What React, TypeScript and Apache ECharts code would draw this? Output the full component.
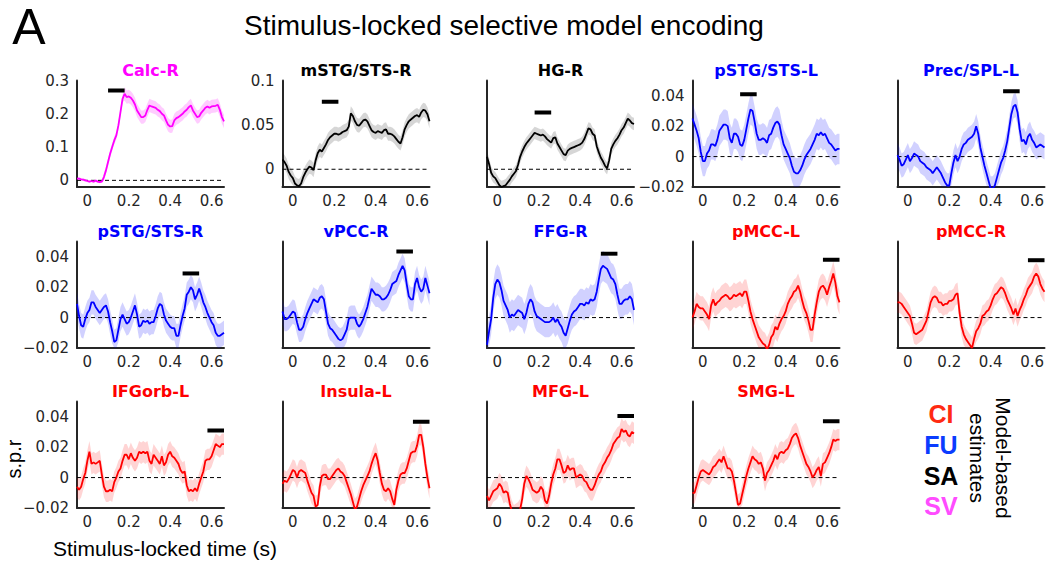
import React, { useEffect, useRef } from "react";
import * as echarts from "echarts";

// ---------- data ----------
const TIME = [
  -0.05, -0.04, -0.03, -0.02, -0.01, 0, 0.01, 0.02, 0.03, 0.04,
  0.05, 0.06, 0.07, 0.08, 0.09, 0.1, 0.11, 0.12, 0.13, 0.14,
  0.15, 0.16, 0.17, 0.18, 0.19, 0.2, 0.21, 0.22, 0.23, 0.24,
  0.25, 0.26, 0.27, 0.28, 0.29, 0.3, 0.31, 0.32, 0.33, 0.34,
  0.35, 0.36, 0.37, 0.38, 0.39, 0.4, 0.41, 0.42, 0.43, 0.44,
  0.45, 0.46, 0.47, 0.48, 0.49, 0.5, 0.51, 0.52, 0.53, 0.54,
  0.55, 0.56, 0.57, 0.58, 0.59, 0.6, 0.61, 0.62, 0.63, 0.64,
  0.65, 0.66,
];

const CALC_R = [
  0.005, 0.005, 0.003, 0.002, 0, -0.002, -0.004, -0.002, -0.004, -0.001,
  -0.004, -0.005, -0.004, 0.01, 0.03, 0.055, 0.08, 0.1, 0.12, 0.135,
  0.165, 0.205, 0.245, 0.26, 0.25, 0.252, 0.248, 0.24, 0.228, 0.21,
  0.2, 0.19, 0.19, 0.195, 0.212, 0.225, 0.222, 0.22, 0.218, 0.212,
  0.208, 0.2, 0.195, 0.18, 0.167, 0.162, 0.163, 0.18, 0.187, 0.19,
  0.195, 0.2, 0.207, 0.212, 0.22, 0.225, 0.21, 0.2, 0.19, 0.192,
  0.203, 0.21, 0.218, 0.222, 0.218, 0.222, 0.223, 0.224, 0.227, 0.212,
  0.19, 0.177,
];
const MSTG_STS_R = [
  0.011, 0.008, 0.004, -0.003, -0.007, -0.01, -0.016, -0.018, -0.019, -0.016,
  -0.009, -0.004, 0, 0.003, 0.002, -0.001, 0.01, 0.018, 0.022, 0.02,
  0.024, 0.028, 0.033, 0.036, 0.038, 0.04, 0.04, 0.039, 0.04, 0.042,
  0.043, 0.044, 0.048, 0.063, 0.06, 0.054, 0.05, 0.049, 0.052, 0.055,
  0.056, 0.054, 0.049, 0.044, 0.042, 0.041, 0.043, 0.042, 0.041, 0.044,
  0.045, 0.04, 0.04, 0.039, 0.037, 0.034, 0.031, 0.029, 0.036, 0.045,
  0.05, 0.054, 0.056, 0.058, 0.06, 0.061, 0.059, 0.064, 0.067, 0.066,
  0.062, 0.054,
];
const HG_R = [
  0.014, 0.006, -0.004, -0.008, -0.01, -0.014, -0.018, -0.02, -0.019, -0.018,
  -0.015, -0.012, -0.008, -0.005, -0.002, 0.005, 0.014, 0.02, 0.025, 0.029,
  0.032, 0.035, 0.038, 0.041, 0.04, 0.039, 0.038, 0.039, 0.037, 0.034,
  0.032, 0.03, 0.035, 0.036, 0.029, 0.025, 0.021, 0.017, 0.016, 0.021,
  0.023, 0.024, 0.025, 0.026, 0.027, 0.028, 0.03, 0.034, 0.04, 0.046,
  0.045, 0.04, 0.038, 0.026, 0.019, 0.013, 0.009, 0.004, 0.001, 0.01,
  0.023, 0.028, 0.032, 0.035, 0.039, 0.044, 0.047, 0.052, 0.057, 0.055,
  0.052, 0.051,
];
const PSTG_STS_L = [
  0.025, 0.021, 0.017, 0.012, 0.003, -0.003, -0.003, 0.002, 0.004, 0.008,
  0.008, 0.007, 0.011, 0.017, 0.019, 0.021, 0.021, 0.02, 0.012, 0.009,
  0.015, 0.015, 0.013, 0.008, 0.007, 0.011, 0.018, 0.025, 0.031, 0.03,
  0.023, 0.015, 0.011, 0.011, 0.012, 0.011, 0.009, 0.014, 0.015, 0.019,
  0.022, 0.023, 0.021, 0.014, 0.008, 0.005, 0.002, -0.001, -0.006, -0.01,
  -0.011, -0.011, -0.009, -0.006, -0.002, 0.001, 0.003, 0.005, 0.008, 0.011,
  0.015, 0.014, 0.016, 0.014, 0.015, 0.012, 0.009, 0.008, 0.006, 0.004,
  0.005, 0.005,
];
const PREC_SPL_L = [
  0.001, -0.002, -0.006, -0.005, -0.002, 0.001, -0.003, -0.001, 0.002, 0.001,
  0, -0.003, -0.004, -0.005, -0.007, -0.008, -0.009, -0.011, -0.009, -0.007,
  -0.009, -0.011, -0.014, -0.017, -0.019, -0.019, -0.011, -0.004, 0.001, -0.003,
  0, 0.005, 0.008, 0.009, 0.011, 0.012, 0.013, 0.015, 0.02, 0.015,
  0.006, 0, -0.006, -0.011, -0.016, -0.021, -0.021, -0.019, -0.014, -0.009,
  -0.004, -0.001, 0.004, 0.01, 0.019, 0.028, 0.033, 0.034, 0.029, 0.018,
  0.01, 0.011, 0.008, 0.013, 0.015, 0.011, 0.009, 0.006, 0.007, 0.008,
  0.007, 0.006,
];
const PSTG_STS_R = [
  0.009, 0.001, -0.005, -0.006, -0.001, 0.003, 0.005, 0.01, 0.01, 0.007,
  0.005, 0.003, 0.005, 0.007, 0.008, 0.004, -0.003, -0.009, -0.016, -0.015,
  -0.008, -0.001, 0.002, -0.001, -0.004, -0.003, 0, 0.004, 0.008, 0.002,
  -0.006, -0.005, -0.002, -0.003, -0.002, -0.004, -0.003, -0.003, 0.001, 0.006,
  0.009, 0.008, 0.002, -0.002, -0.004, -0.006, -0.007, -0.007, -0.012, -0.012,
  -0.005, 0.001, 0.006, 0.015, 0.017, 0.02, 0.018, 0.012, 0.015, 0.019,
  0.015, 0.01, 0.007, 0.003, 0, -0.003, -0.005, -0.01, -0.012, -0.012,
  -0.011, -0.01,
];
const VPCC_R = [
  0.004, -0.001, -0.001, 0, 0.002, 0.004, 0.003, -0.003, -0.008, -0.008,
  -0.006, -0.001, 0.003, 0.006, 0.009, 0.012, 0.011, 0.01, 0.013, 0.014,
  0.012, 0.004, -0.004, -0.007, -0.008, -0.01, -0.012, -0.014, -0.015, -0.014,
  -0.011, -0.008, -0.001, 0, 0, 0, -0.004, -0.006, -0.004, -0.001,
  0.003, 0.007, 0.013, 0.019, 0.017, 0.015, 0.015, 0.014, 0.012, 0.012,
  0.013, 0.015, 0.018, 0.022, 0.023, 0.024, 0.028, 0.031, 0.034, 0.031,
  0.022, 0.014, 0.012, 0.012, 0.022, 0.026, 0.02, 0.017, 0.019, 0.026,
  0.021, 0.016,
];
const FFG_R = [
  -0.018, -0.009, -0.001, 0.013, 0.022, 0.025, 0.023, 0.018, 0.011, 0.008,
  0.005, 0, 0.002, 0.001, 0.003, 0.005, 0.004, 0.003, -0.001, 0.003,
  0.009, 0.012, 0.01, 0.004, 0.001, 0, -0.001, -0.002, -0.003, -0.003,
  -0.003, -0.002, 0, -0.003, -0.001, -0.004, -0.006, -0.01, -0.012, -0.007,
  -0.002, 0.002, 0.004, 0.005, 0.007, 0.009, 0.009, 0.008, 0.01, 0.009,
  0.012, 0.011, 0.012, 0.017, 0.025, 0.032, 0.034, 0.033, 0.032, 0.029,
  0.026, 0.025, 0.022, 0.015, 0.009, 0.009, 0.011, 0.012, 0.012, 0.014,
  0.012, 0.005,
];
const PMCC_L = [
  0, 0.004, 0.009, 0.007, 0.006, 0.006, 0.004, 0.002, -0.001, 0.008,
  0.012, 0.008, 0.01, 0.011, 0.013, 0.014, 0.015, 0.014, 0.012, 0.013,
  0.015, 0.014, 0.015, 0.016, 0.014, 0.017, 0.017, 0.011, 0.004, -0.001,
  -0.005, -0.009, -0.013, -0.015, -0.017, -0.018, -0.021, -0.018, -0.013, -0.011,
  -0.006, -0.008, -0.004, -0.001, 0.001, 0.004, 0.009, 0.012, 0.014, 0.017,
  0.018, 0.021, 0.017, 0.011, 0.006, 0.003, -0.002, -0.008, -0.008, 0.002,
  0.01, 0.017, 0.02, 0.021, 0.019, 0.015, 0.02, 0.024, 0.029, 0.023,
  0.014, 0.01,
];
const PMCC_R = [
  0.01, 0.01, 0.009, 0.007, 0.005, 0.003, 0.001, -0.004, -0.01, -0.011,
  -0.01, -0.009, -0.008, -0.005, -0.002, 0.004, 0.01, 0.013, 0.014, 0.013,
  0.01, 0.01, 0.008, 0.009, 0.009, 0.011, 0.011, 0.012, 0.015, 0.016,
  0.003, -0.006, -0.011, -0.014, -0.016, -0.018, -0.02, -0.014, -0.009, -0.007,
  -0.004, 0.001, 0.002, 0.004, 0.005, 0.008, 0.012, 0.015, 0.016, 0.018,
  0.02, 0.019, 0.016, 0.012, 0.009, 0.006, 0.002, 0.006, 0.001, 0.005,
  0.008, 0.012, 0.015, 0.019, 0.021, 0.023, 0.027, 0.029, 0.027, 0.022,
  0.019, 0.017,
];
const IFGORB_L = [
  -0.006, -0.008, -0.006, -0.001, 0.003, 0.011, 0.017, 0.009, 0.01, 0.009,
  0.01, 0.011, 0.002, -0.006, -0.009, -0.009, -0.008, -0.009, -0.003, 0,
  0.004, 0.006, 0.011, 0.015, 0.015, 0.012, 0.016, 0.013, 0.011, 0.013,
  0.017, 0.016, 0.017, 0.016, 0.017, 0.011, 0.009, 0.015, 0.013, 0.011,
  0.009, 0.014, 0.008, 0.01, 0.015, 0.017, 0.014, 0.013, 0.011, 0.009,
  0.005, 0.003, 0.004, -0.005, -0.009, -0.008, -0.009, -0.007, -0.009, -0.004,
  0, 0.004, 0.011, 0.012, 0.012, 0.014, 0.018, 0.022, 0.021, 0.02,
  0.022, 0.022,
];
const INSULA_L = [
  -0.004, -0.002, -0.003, -0.001, 0.002, 0.005, 0.004, 0, 0.004, 0.005,
  0.004, 0.003, -0.002, -0.006, -0.01, -0.012, -0.019, -0.018, -0.006, 0.001,
  0.002, 0.002, -0.001, -0.001, 0.001, 0.003, 0.005, 0.006, 0.004, 0.003,
  0.001, -0.003, -0.007, -0.011, -0.016, -0.021, -0.019, -0.014, -0.009, -0.005,
  -0.002, 0.001, 0.004, 0.009, 0.013, 0.016, 0.011, 0.003, -0.004, -0.008,
  -0.009, -0.007, -0.009, -0.014, -0.018, -0.008, -0.002, 0.002, 0.003, 0.003,
  0.006, 0.011, 0.016, 0.017, 0.017, 0.021, 0.028, 0.028, 0.02, 0.009,
  0, -0.007,
];
const MFG_L = [
  -0.012, -0.015, -0.012, -0.009, -0.008, -0.007, -0.004, -0.006, -0.01, -0.009,
  -0.01, -0.017, -0.022, -0.025, -0.024, -0.023, -0.021, -0.014, -0.004, 0.001,
  -0.001, -0.004, -0.008, -0.009, -0.01, -0.009, -0.006, -0.008, -0.015, -0.017,
  -0.012, -0.004, 0.002, 0.006, 0.012, 0.012, 0.008, 0.003, 0.004, 0.008,
  0.005, 0.006, 0.006, 0, 0.001, 0.002, 0.001, -0.002, -0.003, -0.006,
  -0.008, -0.008, -0.005, -0.001, 0.002, 0.004, 0.008, 0.01, 0.013, 0.015,
  0.018, 0.022, 0.024, 0.026, 0.027, 0.032, 0.03, 0.031, 0.028, 0.027,
  0.03, 0.029,
];
const SMG_L = [
  -0.01, -0.01, -0.005, 0, 0.004, 0.005, 0.004, 0.003, 0.002, 0.004,
  0.007, 0.008, 0.01, 0.012, 0.01, 0.014, 0.01, 0.006, 0.006, 0.004,
  -0.002, -0.01, -0.018, -0.017, -0.011, -0.005, 0.001, 0.006, 0.01, 0.014,
  0.012, 0.011, 0.009, 0.01, 0.006, -0.002, 0.003, 0.005, 0.008, 0.011,
  0.015, 0.012, 0.016, 0.017, 0.016, 0.018, 0.019, 0.022, 0.026, 0.028,
  0.029, 0.026, 0.021, 0.017, 0.013, 0.009, 0.007, 0.004, 0, 0.002,
  0.005, 0.007, 0.001, 0.009, 0.01, 0.013, 0.016, 0.02, 0.025, 0.024,
  0.025, 0.025,
];

// half-width of the shaded band for Calc-R (narrow before stimulus onset)
const CALC_R_BAND = [
  0.004, 0.004, 0.004, 0.004, 0.004, 0.004, 0.004, 0.004, 0.004, 0.004,
  0.004, 0.004, 0.004, 0.012, 0.012, 0.012, 0.012, 0.012, 0.012, 0.012,
  0.012, 0.012, 0.012, 0.02, 0.02, 0.02, 0.02, 0.02, 0.02, 0.02,
  0.02, 0.02, 0.02, 0.02, 0.02, 0.02, 0.02, 0.02, 0.02, 0.02,
  0.02, 0.02, 0.02, 0.02, 0.02, 0.02, 0.02, 0.02, 0.02, 0.02,
  0.02, 0.02, 0.02, 0.02, 0.02, 0.02, 0.02, 0.02, 0.02, 0.02,
  0.02, 0.02, 0.02, 0.02, 0.02, 0.02, 0.02, 0.02, 0.02, 0.02,
  0.02, 0.02,
];

const PANEL_NAMES = [
  "Calc-R", "mSTG/STS-R", "HG-R", "pSTG/STS-L", "Prec/SPL-L",
  "pSTG/STS-R", "vPCC-R", "FFG-R", "pMCC-L", "pMCC-R",
  "IFGorb-L", "Insula-L", "MFG-L", "SMG-L",
];
const PANEL_VALUES = [
  CALC_R, MSTG_STS_R, HG_R, PSTG_STS_L, PREC_SPL_L,
  PSTG_STS_R, VPCC_R, FFG_R, PMCC_L, PMCC_R,
  IFGORB_L, INSULA_L, MFG_L, SMG_L,
];
const PANEL_GROUP = [
  "SV", "SA", "SA", "FU", "FU",
  "FU", "FU", "FU", "CI", "CI",
  "CI", "CI", "CI", "CI",
];
// constant band half-widths (Calc-R uses CALC_R_BAND)
const BAND_HALF = [
  0, 0.008, 0.007, 0.01, 0.008,
  0.008, 0.008, 0.01, 0.008, 0.007,
  0.007, 0.007, 0.007, 0.007,
];
const Y_MIN = -0.02;
const Y_MAX = [0.3, 0.1, 0.1, 0.05, 0.05, 0.05, 0.05, 0.05, 0.05, 0.05, 0.05, 0.05, 0.05, 0.05];
const Y_TICKS: (number[] | null)[] = [
  [0, 0.1, 0.2, 0.3], [0, 0.05, 0.1], null, [-0.02, 0, 0.02, 0.04], null,
  [-0.02, 0, 0.02, 0.04], null, null, null, null,
  [-0.02, 0, 0.02, 0.04], null, null, null,
];
const X_MIN = -0.05;
const X_MAX = 0.66;
const X_TICKS = [0, 0.2, 0.4, 0.6];

// significance bars
const SIG_START = [0.1, 0.14, 0.18, 0.18, 0.46, 0.46, 0.5, 0.5, 0.58, 0.58, 0.58, 0.58, 0.58, 0.58];
const SIG_END = [0.18, 0.22, 0.26, 0.26, 0.54, 0.54, 0.58, 0.58, 0.66, 0.66, 0.66, 0.66, 0.66, 0.66];
const SIG_LEVEL = [0.27, 0.076, 0.064, 0.041, 0.043, 0.029, 0.0435, 0.042, 0.038, 0.0377, 0.031, 0.0367, 0.0404, 0.037];

const LEGEND_LABELS = ["CI", "FU", "SA", "SV"];

// ---------- styles ----------
const GROUP_COLOR: Record<string, string> = {
  SV: "#ff00ff",
  SA: "#000000",
  FU: "#0000ff",
  CI: "#ff0000",
};
const BAND_COLOR: Record<string, string> = {
  SV: "rgba(255,0,255,0.2)",
  SA: "rgba(0,0,0,0.16)",
  FU: "rgba(0,0,255,0.18)",
  CI: "rgba(255,0,0,0.17)",
};
const LEGEND_COLOR: Record<string, string> = {
  CI: "#ff2a12",
  FU: "#0a3cff",
  SA: "#000000",
  SV: "#ff4cff",
};

const COL_LEFT = [77, 282.5, 487, 692.5, 897.5];
const ROW_TOP = [80.5, 241.5, 401.5];
const PW = 147;
const PH = 106.5;
const AXIS_COLOR = "#262626";
const SANS = '"Liberation Sans", Arial, Helvetica, sans-serif';
const DEJA = '"DejaVu Sans", Verdana, sans-serif';

function fmt(v: number) {
  if (Math.abs(v) < 1e-9) return "0";
  const s = String(Math.round(Math.abs(v) * 1000) / 1000);
  return v < 0 ? "\u2212" + s : s;
}

function buildOption() {
  const grid: any[] = [];
  const xAxis: any[] = [];
  const yAxis: any[] = [];
  const series: any[] = [];
  const graphic: any[] = [];

  PANEL_NAMES.forEach((name, i) => {
    const col = i % 5;
    const row = Math.floor(i / 5);
    const left = COL_LEFT[col];
    const top = ROW_TOP[row];
    const group = PANEL_GROUP[i];
    const values = PANEL_VALUES[i];
    const yMax = Y_MAX[i];
    const half = (k: number) => (i === 0 ? CALC_R_BAND[k] : BAND_HALF[i]);

    grid.push({ left, top, width: PW, height: PH, containLabel: false });

    xAxis.push({
      gridIndex: i,
      type: "value",
      min: X_MIN,
      max: X_MAX,
      splitLine: { show: false },
      axisTick: { show: false },
      axisLine: { onZero: false, lineStyle: { color: AXIS_COLOR, width: 2 } },
      axisLabel: {
        customValues: X_TICKS,
        formatter: (v: number) => fmt(v),
        fontFamily: DEJA,
        fontSize: 15,
        color: AXIS_COLOR,
        margin: 6,
      },
    });

    const ticks = Y_TICKS[i];
    yAxis.push({
      gridIndex: i,
      type: "value",
      min: Y_MIN,
      max: yMax,
      splitLine: { show: false },
      axisTick: { show: false },
      axisLine: { onZero: false, lineStyle: { color: AXIS_COLOR, width: 2 } },
      axisLabel: ticks
        ? {
            customValues: ticks,
            formatter: (v: number) => fmt(v),
            fontFamily: DEJA,
            fontSize: 15,
            color: AXIS_COLOR,
            margin: 8,
          }
        : { show: false },
    });

    // shaded band
    const bandData = TIME.map((t, k) => [t, values[k] - half(k), values[k] + half(k)]);
    series.push({
      type: "custom",
      xAxisIndex: i,
      yAxisIndex: i,
      silent: true,
      data: bandData,
      renderItem: (params: any, api: any) => {
        if (params.dataIndex !== 0) return null;
        const clamp = (v: number) => Math.max(Y_MIN, Math.min(yMax, v));
        const upper = bandData.map((d) => api.coord([d[0], clamp(d[2])]));
        const lower = bandData.map((d) => api.coord([d[0], clamp(d[1])])).reverse();
        return {
          type: "polygon",
          shape: { points: upper.concat(lower) },
          style: { fill: BAND_COLOR[group], stroke: "none" },
        };
      },
      z: 1,
    });

    // zero reference line
    series.push({
      type: "line",
      xAxisIndex: i,
      yAxisIndex: i,
      data: [
        [X_MIN, 0],
        [X_MAX, 0],
      ],
      symbol: "none",
      silent: true,
      lineStyle: { color: "#000", width: 1, type: [4, 3] },
      z: 2,
    });

    // mean curve
    series.push({
      type: "line",
      xAxisIndex: i,
      yAxisIndex: i,
      data: TIME.map((t, k) => [t, values[k]]),
      symbol: "none",
      silent: true,
      clip: true,
      lineStyle: { color: GROUP_COLOR[group], width: 1.8 },
      z: 3,
    });

    // significance bar
    series.push({
      type: "line",
      xAxisIndex: i,
      yAxisIndex: i,
      data: [
        [SIG_START[i], SIG_LEVEL[i]],
        [SIG_END[i], SIG_LEVEL[i]],
      ],
      symbol: "none",
      silent: true,
      lineStyle: { color: "#000", width: 4, cap: "butt" },
      z: 4,
    });

    graphic.push({
      type: "text",
      x: left + PW / 2,
      y: top - 10.5,
      style: {
        text: name,
        fill: GROUP_COLOR[group],
        font: `bold 16px ${DEJA}`,
        align: "center",
        verticalAlign: "middle",
      },
    });
  });

  graphic.push(
    {
      type: "text",
      x: 29,
      y: 27,
      style: { text: "A", fill: "#000", font: `50px ${SANS}`, align: "center", verticalAlign: "middle" },
    },
    {
      type: "text",
      x: 504,
      y: 25,
      style: {
        text: "Stimulus-locked selective model encoding",
        fill: "#000",
        font: `28px ${SANS}`,
        align: "center",
        verticalAlign: "middle",
      },
    },
    {
      type: "text",
      x: 14,
      y: 459,
      rotation: Math.PI / 2,
      style: { text: "s.p.r", fill: "#000", font: `20px ${SANS}`, align: "center", verticalAlign: "middle" },
    },
    {
      type: "text",
      x: 165,
      y: 548,
      style: {
        text: "Stimulus-locked time (s)",
        fill: "#000",
        font: `21px ${SANS}`,
        align: "center",
        verticalAlign: "middle",
      },
    },
    {
      type: "text",
      x: 1003,
      y: 458,
      rotation: -Math.PI / 2,
      style: { text: "Model-based", fill: "#000", font: `21px ${SANS}`, align: "center", verticalAlign: "middle" },
    },
    {
      type: "text",
      x: 977,
      y: 458,
      rotation: -Math.PI / 2,
      style: { text: "estimates", fill: "#000", font: `21px ${SANS}`, align: "center", verticalAlign: "middle" },
    }
  );

  const legendY = [414, 444.5, 475.5, 506];
  LEGEND_LABELS.forEach((lab, k) => {
    graphic.push({
      type: "text",
      x: 941,
      y: legendY[k],
      style: {
        text: lab,
        fill: LEGEND_COLOR[lab],
        font: `bold 25px ${SANS}`,
        align: "center",
        verticalAlign: "middle",
      },
    });
  });

  return {
    animation: false,
    backgroundColor: "#ffffff",
    grid,
    xAxis,
    yAxis,
    series,
    graphic,
  };
}

export default function App() {
  const ref = useRef<HTMLDivElement | null>(null);
  useEffect(() => {
    if (!ref.current) return;
    const chart = echarts.init(ref.current, undefined, { renderer: "svg" });
    chart.setOption(buildOption() as any);
    return () => chart.dispose();
  }, []);
  return (
    <div
      ref={ref}
      style={{ position: "absolute", left: 0, top: 0, width: 1052, height: 564, background: "#fff" }}
    />
  );
}
